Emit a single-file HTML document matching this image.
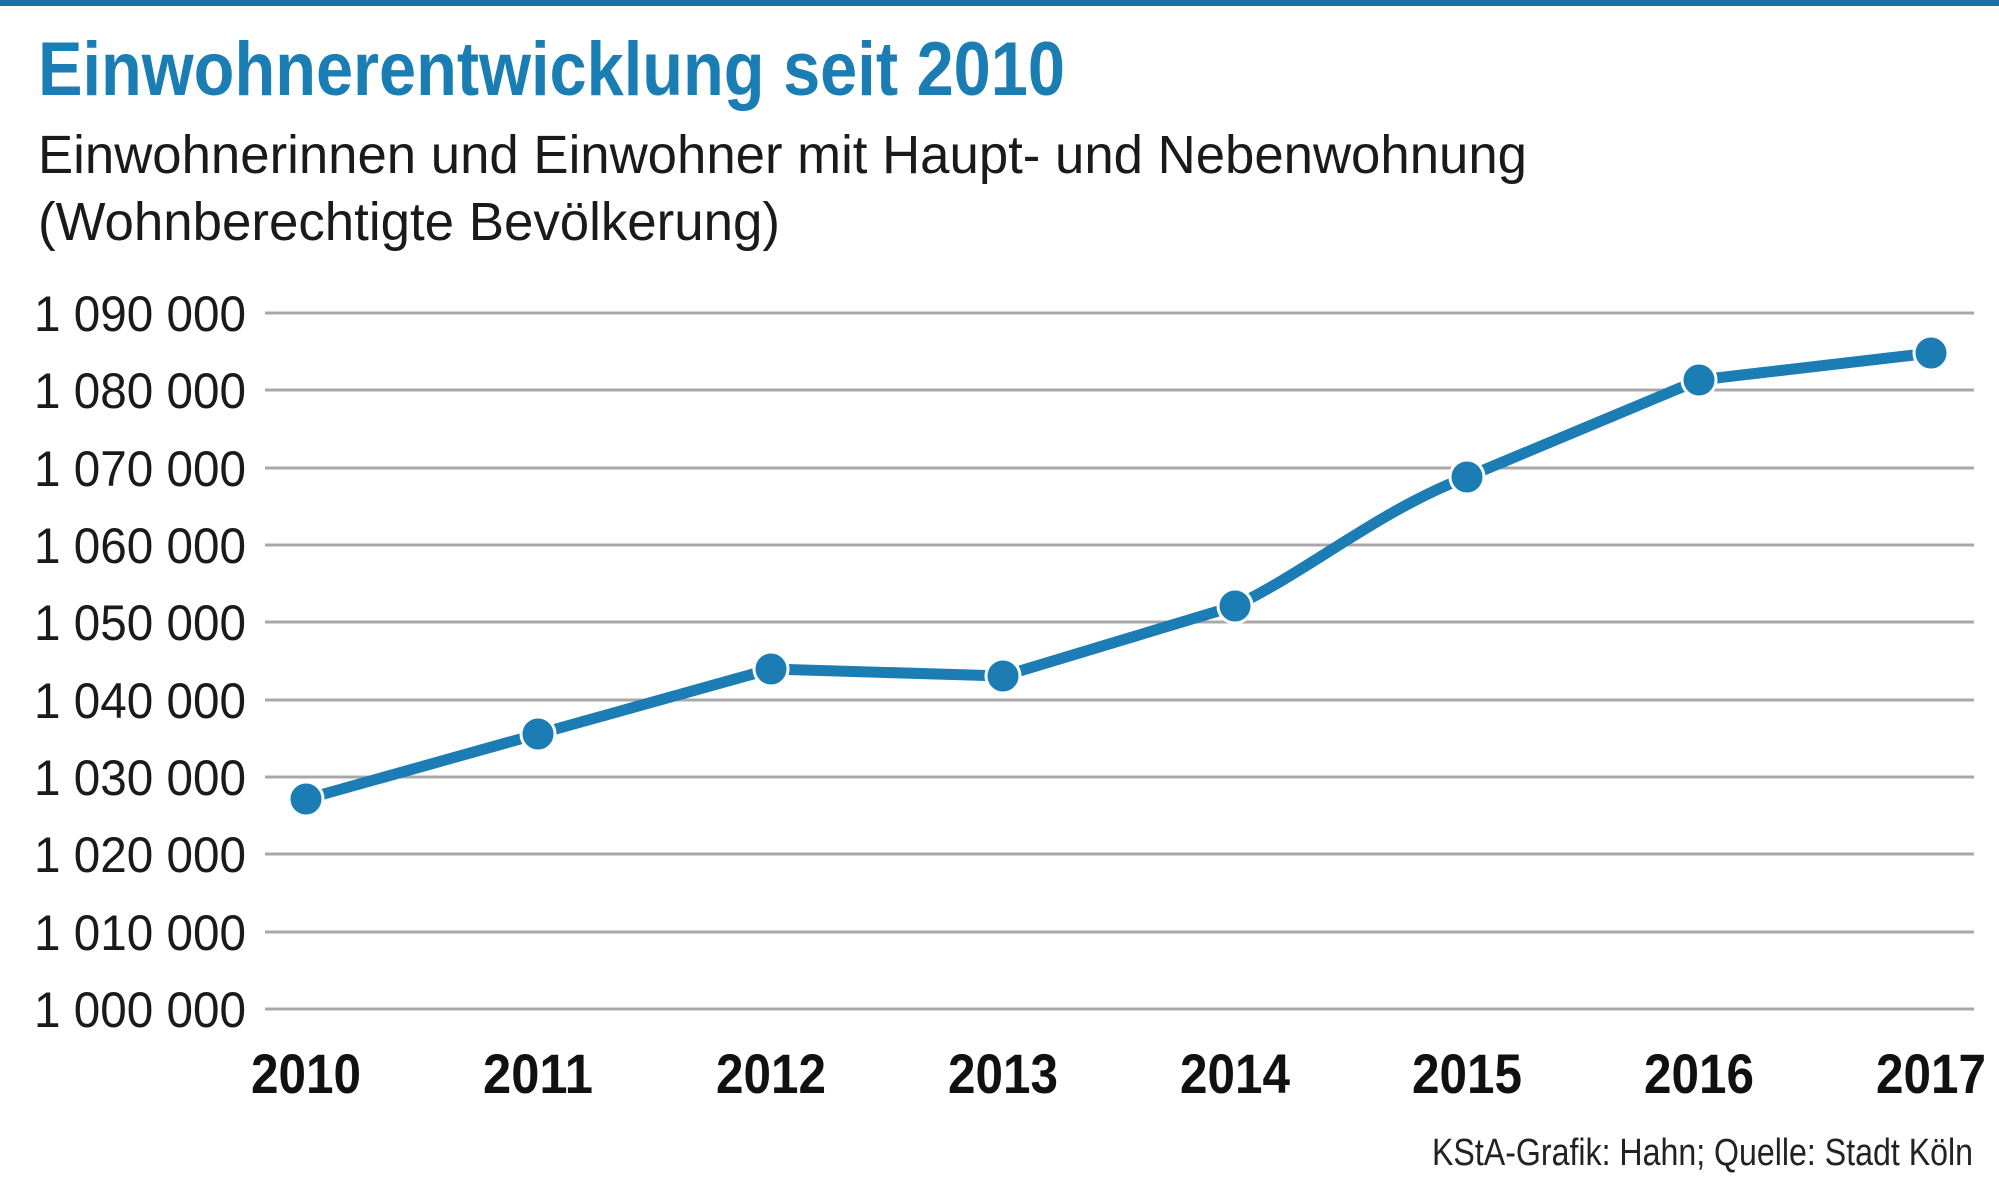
<!DOCTYPE html>
<html><head><meta charset="utf-8"><style>
html,body{margin:0;padding:0;background:#fff;}
svg{display:block;}
</style></head><body>
<svg width="1999" height="1186" viewBox="0 0 1999 1186" xmlns="http://www.w3.org/2000/svg" font-family="Liberation Sans, sans-serif">
<rect x="0" y="0" width="1999" height="6" fill="#1a73a8"/>
<text x="38" y="95" font-size="76" font-weight="bold" fill="#1a7db3" textLength="1027" lengthAdjust="spacingAndGlyphs">Einwohnerentwicklung seit 2010</text>
<text x="38" y="173" font-size="54" fill="#1a1a1a" textLength="1489" lengthAdjust="spacingAndGlyphs">Einwohnerinnen und Einwohner mit Haupt- und Nebenwohnung</text>
<text x="38" y="240" font-size="54" fill="#1a1a1a" textLength="742" lengthAdjust="spacingAndGlyphs">(Wohnberechtigte Bevölkerung)</text>
<g stroke="#a8a8a8" stroke-width="3">
<line x1="265" y1="313" x2="1974" y2="313"/>
<line x1="265" y1="390" x2="1974" y2="390"/>
<line x1="265" y1="468" x2="1974" y2="468"/>
<line x1="265" y1="545" x2="1974" y2="545"/>
<line x1="265" y1="622" x2="1974" y2="622"/>
<line x1="265" y1="700" x2="1974" y2="700"/>
<line x1="265" y1="777" x2="1974" y2="777"/>
<line x1="265" y1="854" x2="1974" y2="854"/>
<line x1="265" y1="932" x2="1974" y2="932"/>
<line x1="265" y1="1009" x2="1974" y2="1009"/>
</g>
<g font-size="50" fill="#1a1a1a" text-anchor="end">
<text x="246" y="331" textLength="212" lengthAdjust="spacingAndGlyphs">1 090 000</text>
<text x="246" y="408" textLength="212" lengthAdjust="spacingAndGlyphs">1 080 000</text>
<text x="246" y="486" textLength="212" lengthAdjust="spacingAndGlyphs">1 070 000</text>
<text x="246" y="563" textLength="212" lengthAdjust="spacingAndGlyphs">1 060 000</text>
<text x="246" y="640" textLength="212" lengthAdjust="spacingAndGlyphs">1 050 000</text>
<text x="246" y="718" textLength="212" lengthAdjust="spacingAndGlyphs">1 040 000</text>
<text x="246" y="795" textLength="212" lengthAdjust="spacingAndGlyphs">1 030 000</text>
<text x="246" y="872" textLength="212" lengthAdjust="spacingAndGlyphs">1 020 000</text>
<text x="246" y="950" textLength="212" lengthAdjust="spacingAndGlyphs">1 010 000</text>
<text x="246" y="1027" textLength="212" lengthAdjust="spacingAndGlyphs">1 000 000</text>
</g>
<path fill="none" stroke="#1b7db3" stroke-width="11" stroke-linejoin="round" d="M306,799 L538,734 L771,669 L1003,676 L1235,606 C1310,570 1380,510 1467,477 L1699,380 L1931,353"/>
<g fill="#1b7db3" stroke="#fff" stroke-width="3">
<circle cx="306" cy="799" r="17"/>
<circle cx="538" cy="734" r="17"/>
<circle cx="771" cy="669" r="17"/>
<circle cx="1003" cy="676" r="17"/>
<circle cx="1235" cy="606" r="17"/>
<circle cx="1467" cy="477" r="17"/>
<circle cx="1699" cy="380" r="17"/>
<circle cx="1931" cy="353" r="17"/>
</g>
<g font-size="56" font-weight="bold" fill="#111" text-anchor="middle">
<text x="306" y="1093" textLength="110" lengthAdjust="spacingAndGlyphs">2010</text>
<text x="538" y="1093" textLength="110" lengthAdjust="spacingAndGlyphs">2011</text>
<text x="771" y="1093" textLength="110" lengthAdjust="spacingAndGlyphs">2012</text>
<text x="1003" y="1093" textLength="110" lengthAdjust="spacingAndGlyphs">2013</text>
<text x="1235" y="1093" textLength="110" lengthAdjust="spacingAndGlyphs">2014</text>
<text x="1467" y="1093" textLength="110" lengthAdjust="spacingAndGlyphs">2015</text>
<text x="1699" y="1093" textLength="110" lengthAdjust="spacingAndGlyphs">2016</text>
<text x="1931" y="1093" textLength="110" lengthAdjust="spacingAndGlyphs">2017</text>
</g>
<text x="1432" y="1165" font-size="38" fill="#222" textLength="541" lengthAdjust="spacingAndGlyphs">KStA-Grafik: Hahn; Quelle: Stadt Köln</text>
</svg>
</body></html>
